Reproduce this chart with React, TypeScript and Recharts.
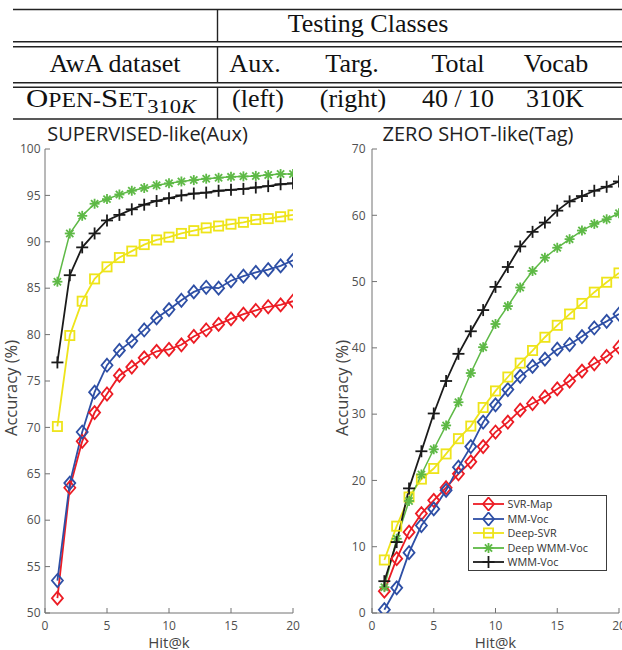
import React from 'react';
import { LineChart, Line, XAxis, YAxis, Legend, Label } from 'recharts';

// ---------- data ----------
const hits = [1, 2, 3, 4, 5, 6, 7, 8, 9, 10, 11, 12, 13, 14, 15, 16, 17, 18, 19, 20];

// SUPERVISED-like (Aux)
const auxSvrMap = [51.6, 63.5, 68.5, 71.6, 73.6, 75.6, 76.5, 77.5, 78.2, 78.4, 78.9, 79.8, 80.5, 81.1, 81.7, 82.2, 82.6, 83.0, 83.2, 83.6];
const auxMmVoc = [53.5, 64.0, 69.5, 73.8, 76.7, 78.3, 79.3, 80.5, 81.8, 82.7, 83.7, 84.6, 85.1, 85.0, 85.8, 86.3, 86.7, 87.0, 87.4, 88.0];
const auxDeepSvr = [70.1, 79.9, 83.6, 86.0, 87.3, 88.3, 89.0, 89.7, 90.2, 90.5, 90.9, 91.2, 91.5, 91.7, 91.9, 92.1, 92.4, 92.5, 92.7, 92.9];
const auxDeepWmm = [85.7, 90.9, 92.8, 94.1, 94.6, 95.1, 95.5, 95.8, 96.1, 96.3, 96.5, 96.65, 96.8, 96.9, 97.0, 97.05, 97.1, 97.2, 97.3, 97.3];
const auxWmmVoc = [77.0, 86.4, 89.4, 90.9, 92.3, 92.9, 93.5, 94.0, 94.4, 94.7, 95.0, 95.2, 95.3, 95.5, 95.6, 95.7, 95.85, 96.0, 96.2, 96.3];

// ZERO SHOT-like (Tag)
const tagSvrMap = [3.3, 8.2, 12.2, 15.0, 17.0, 18.9, 21.0, 22.8, 25.1, 27.3, 28.8, 30.6, 31.6, 32.6, 33.8, 35.0, 36.5, 37.6, 38.7, 40.1];
const tagMmVoc = [0.5, 3.8, 9.1, 13.2, 15.7, 18.5, 22.0, 25.1, 28.8, 31.4, 33.7, 35.7, 37.2, 38.3, 39.8, 40.5, 41.7, 43.0, 44.0, 45.1];
const tagDeepSvr = [8.0, 13.1, 17.5, 20.2, 21.8, 24.0, 26.3, 28.2, 31.0, 33.5, 35.6, 37.7, 39.6, 41.6, 43.4, 45.1, 46.7, 48.4, 49.9, 51.3];
const tagDeepWmm = [3.9, 11.2, 16.9, 20.9, 24.7, 28.3, 31.8, 36.2, 40.1, 43.6, 46.3, 49.1, 51.6, 53.6, 55.1, 56.4, 57.7, 58.7, 59.4, 60.3];
const tagWmmVoc = [4.8, 10.7, 18.8, 24.4, 30.1, 35.0, 39.1, 42.5, 45.7, 49.2, 52.2, 55.3, 57.5, 58.9, 60.7, 62.1, 62.9, 63.7, 64.3, 65.1];

const xTicks = [0, 5, 10, 15, 20];
const auxTicks = [50, 55, 60, 65, 70, 75, 80, 85, 90, 95, 100];
const tagTicks = [0, 10, 20, 30, 40, 50, 60, 70];

const seriesNames = ['SVR-Map', 'MM-Voc', 'Deep-SVR', 'Deep WMM-Voc', 'WMM-Voc'];
const seriesKeys = ['svrMap', 'mmVoc', 'deepSvr', 'deepWmm', 'wmmVoc'];

// ---------- styles ----------
const SANS = '"Open Sans", "Noto Sans", sans-serif';
const SERIF = '"Liberation Serif", "Times New Roman", serif';
const colors = ['#EC1C24', '#2E4FA5', '#EEE41A', '#5EB946', '#1A1A1A'];
const markers = ['diamond', 'diamond', 'square', 'star', 'plus'];
const AXIS = '#737373';
const TICKTXT = '#505050';

function makeRows(a: number[], b: number[], c: number[], d: number[], e: number[]) {
  return hits.map((k, i) => ({ k, svrMap: a[i], mmVoc: b[i], deepSvr: c[i], deepWmm: d[i], wmmVoc: e[i] }));
}
const auxRows = makeRows(auxSvrMap, auxMmVoc, auxDeepSvr, auxDeepWmm, auxWmmVoc);
const tagRows = makeRows(tagSvrMap, tagMmVoc, tagDeepSvr, tagDeepWmm, tagWmmVoc);

function Marker({ cx, cy, color, kind }: { cx: number; cy: number; color: string; kind: string }) {
  if (cx == null || cy == null) return null;
  const sw = 1.8;
  if (kind === 'diamond') {
    const rx = 5.5, ry = 6.5;
    return (
      <polygon
        points={`${cx},${cy - ry} ${cx + rx},${cy} ${cx},${cy + ry} ${cx - rx},${cy}`}
        fill="none" stroke={color} strokeWidth={sw}
      />
    );
  }
  if (kind === 'square') {
    const h = 4.6;
    return <rect x={cx - h} y={cy - h} width={2 * h} height={2 * h} fill="none" stroke={color} strokeWidth={sw} />;
  }
  if (kind === 'star') {
    const r = 5, d = 3.6;
    return (
      <g stroke={color} strokeWidth={1.8}>
        <line x1={cx - r} y1={cy} x2={cx + r} y2={cy} />
        <line x1={cx} y1={cy - r} x2={cx} y2={cy + r} />
        <line x1={cx - d} y1={cy - d} x2={cx + d} y2={cy + d} />
        <line x1={cx - d} y1={cy + d} x2={cx + d} y2={cy - d} />
      </g>
    );
  }
  const r = 6;
  return (
    <g stroke={color} strokeWidth={1.8}>
      <line x1={cx - r} y1={cy} x2={cx + r} y2={cy} />
      <line x1={cx} y1={cy - r} x2={cx} y2={cy + r} />
    </g>
  );
}

function LegendBox() {
  return (
    <div style={{ width: 139, height: 76, border: '1px solid #3c3c3c', background: '#fff', boxSizing: 'border-box', paddingTop: 1.5 }}>
      {seriesNames.map((name, i) => (
        <div key={name} style={{ display: 'flex', alignItems: 'center', height: 14.5 }}>
          <svg width={37} height={14} style={{ display: 'block' }}>
            <line x1={4} x2={35} y1={7} y2={7} stroke={colors[i]} strokeWidth={1.8} />
            <Marker cx={19.5} cy={7} color={colors[i]} kind={markers[i]} />
          </svg>
          <span style={{ fontFamily: SANS, fontSize: 10.8, color: '#333', marginLeft: 1.5, lineHeight: '14px', whiteSpace: 'nowrap' }}>{name}</span>
        </div>
      ))}
    </div>
  );
}

const yLabel = (x: number) => (props: any) => {
  const vb = props.viewBox || { y: 149, height: 464 };
  const cy = vb.y + vb.height / 2 + 7;
  return (
    <text x={x} y={cy} transform={`rotate(-90 ${x} ${cy})`} textAnchor="middle" dominantBaseline="central"
      fill="#444" fontSize={16.5} fontFamily={SANS}>Accuracy (%)</text>
  );
};

type PanelProps = {
  rows: any[];
  domain: [number, number];
  yTicks: number[];
  width: number;
  left: number;
  yAxisWidth: number;
  rightMargin: number;
  tickMarginY: number;
  yLabelX: number;
  legend?: boolean;
};

function Panel({ rows, domain, yTicks, width, left, yAxisWidth, rightMargin, tickMarginY, yLabelX, legend }: PanelProps) {
  const tickStyle = { fill: TICKTXT, fontSize: 12, fontFamily: SANS };
  return (
    <div style={{ position: 'absolute', left, top: 0 }}>
      <LineChart width={width} height={650} data={rows} margin={{ top: 149, right: rightMargin, bottom: 0, left: 0 }}>
        <XAxis dataKey="k" type="number" domain={[0, 20]} ticks={xTicks} allowDataOverflow height={37}
          tickSize={-5} tickMargin={13} stroke={AXIS} tick={tickStyle}
          label={{ value: 'Hit@k', position: 'insideBottom', offset: 2.5, fill: '#444', fontSize: 15, fontFamily: SANS }} />
        <XAxis xAxisId="top" orientation="top" dataKey="k" type="number" domain={[0, 20]} ticks={xTicks}
          allowDataOverflow height={0} tickSize={-5} tick={false} stroke={AXIS} />
        <YAxis type="number" domain={domain} ticks={yTicks} allowDataOverflow width={yAxisWidth}
          tickSize={-5} tickMargin={tickMarginY} stroke={AXIS} tick={tickStyle} interval={0}
          label={<Label content={yLabel(yLabelX)} />} />
        <YAxis yAxisId="right" orientation="right" type="number" domain={domain} ticks={yTicks} allowDataOverflow
          width={0} tickSize={-5} tick={false} stroke={AXIS} interval={0} />
        {seriesKeys.map((key, i) => (
          <Line key={key} dataKey={key} name={seriesNames[i]} type="linear" stroke={colors[i]}
            strokeWidth={i === 3 ? 1.5 : 1.8} isAnimationActive={false}
            dot={(p: any) => <Marker key={`${key}-${p.index}`} cx={p.cx} cy={p.cy} color={colors[i]} kind={markers[i]} />}
            activeDot={false} />
        ))}
        {legend ? (
          <Legend layout="vertical" align="center" verticalAlign="middle" content={() => <LegendBox />}
            wrapperStyle={{ left: 157, top: 494.5, width: 139, height: 76 }} />
        ) : null}
      </LineChart>
    </div>
  );
}

function TableAndTitles() {
  const lc = '#222';
  const lw = 1.4;
  const x0 = 13;
  const x1 = 622;
  const vx = 217.5;
  return (
    <svg width={622} height={650} style={{ position: 'absolute', left: 0, top: 0 }}>
      <g stroke={lc} strokeWidth={lw}>
        <line x1={x0} x2={x1} y1={9.5} y2={9.5} />
        <line x1={x0} x2={x1} y1={41.7} y2={41.7} />
        <line x1={x0} x2={x1} y1={46.7} y2={46.7} />
        <line x1={x0} x2={x1} y1={82.7} y2={82.7} />
        <line x1={x0} x2={x1} y1={87.3} y2={87.3} />
        <line x1={x0} x2={x1} y1={119} y2={119} />
        <line x1={vx} x2={vx} y1={9.5} y2={41.7} />
        <line x1={vx} x2={vx} y1={46.7} y2={82.7} />
        <line x1={vx} x2={vx} y1={87.3} y2={119} />
      </g>
      <g fontFamily={SERIF} fontSize={26} fill="#111" textAnchor="middle">
        <text x={368} y={32}>Testing Classes</text>
        <text x={115} y={72}>AwA dataset</text>
        <text x={255} y={72}>Aux.</text>
        <text x={352} y={72}>Targ.</text>
        <text x={458} y={72}>Total</text>
        <text x={556} y={72}>Vocab</text>
        <text x={111} y={106.5} textLength={170} lengthAdjust="spacingAndGlyphs">
          <tspan>O</tspan>
          <tspan fontSize={20}>PEN-</tspan>
          <tspan>S</tspan>
          <tspan fontSize={20}>ET</tspan>
          <tspan fontSize={19} dy={6}>310</tspan>
          <tspan fontSize={19} fontStyle="italic">K</tspan>
        </text>
        <text x={258} y={107}>(left)</text>
        <text x={353} y={107}>(right)</text>
        <text x={458} y={107}>40 / 10</text>
        <text x={555} y={107}>310K</text>
      </g>
      <g fontFamily={SANS} fontSize={20} fill="#222" textAnchor="middle">
        <text x={147.5} y={140.5}>SUPERVISED-like(Aux)</text>
        <text x={478} y={140.5}>ZERO SHOT-like(Tag)</text>
      </g>
    </svg>
  );
}

export default function App() {
  return (
    <div style={{ position: 'absolute', left: 0, top: 0, width: 622, height: 650, overflow: 'hidden', background: '#fff' }}>
      <TableAndTitles />
      <Panel rows={auxRows} domain={[50, 100]} yTicks={auxTicks} width={311} left={0} yAxisWidth={45}
        rightMargin={18} tickMarginY={9.5} yLabelX={10} />
      <Panel rows={tagRows} domain={[0, 70]} yTicks={tagTicks} width={330} left={311} yAxisWidth={61}
        rightMargin={22} tickMarginY={11.5} yLabelX={30} legend />
    </div>
  );
}
